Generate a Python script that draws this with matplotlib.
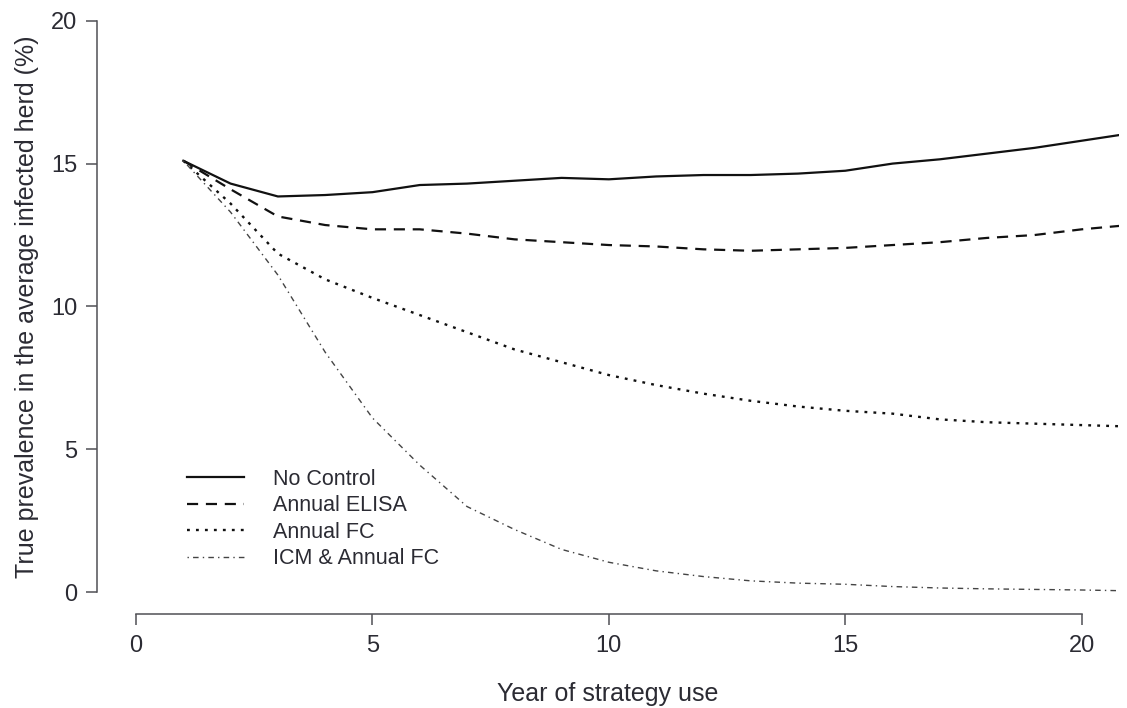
import matplotlib
matplotlib.use("Agg")
import matplotlib.pyplot as plt

plt.rcParams['font.family'] = ['Liberation Sans', 'DejaVu Sans']

years = list(range(1, 22))
no_control = [15.1, 14.3, 13.85, 13.9, 14.0, 14.25, 14.3, 14.4, 14.5, 14.45, 14.55,
              14.6, 14.6, 14.65, 14.75, 15.0, 15.15, 15.35, 15.55, 15.8, 16.05]
annual_elisa = [15.1, 14.1, 13.15, 12.85, 12.7, 12.7, 12.55, 12.35, 12.25, 12.15, 12.1,
                12.0, 11.95, 12.0, 12.05, 12.15, 12.25, 12.4, 12.5, 12.7, 12.85]
annual_fc = [15.1, 13.6, 11.85, 10.95, 10.3, 9.7, 9.1, 8.5, 8.05, 7.6, 7.25,
             6.95, 6.7, 6.5, 6.35, 6.25, 6.05, 5.95, 5.9, 5.85, 5.8]
icm_fc = [15.1, 13.3, 11.1, 8.4, 6.1, 4.45, 3.0, 2.2, 1.5, 1.05, 0.75,
          0.55, 0.4, 0.32, 0.28, 0.2, 0.15, 0.12, 0.1, 0.08, 0.05]
labels = ["No Control", "Annual ELISA", "Annual FC", "ICM & Annual FC"]
xticks = [0, 5, 10, 15, 20]
yticks = [0, 5, 10, 15, 20]

txt = '#2b2b33'
axcol = '#505055'

fig = plt.figure(figsize=(11.27, 7.08), dpi=100)
ax = fig.add_axes([96.7 / 1127, 94 / 708, (1119 - 96.7) / 1127, 614 / 708])

ax.plot(years, no_control, color='#111111', lw=1.6, ls='-', label=labels[0])
ax.plot(years, annual_elisa, color='#111111', lw=1.6, ls=(0, (5, 3.5)), label=labels[1])
ax.plot(years, annual_fc, color='#111111', lw=1.7, ls=(0, (1.2, 2.6)), label=labels[2])
ax.plot(years, icm_fc, color='#444444', lw=1.0, ls=(0, (1, 3, 4, 3)), label=labels[3])

ax.set_xlim(-0.832, (1119 - 136) / 47.285)
ax.set_ylim(-0.76, 592.3 / 28.58)

for s in ['top', 'right']:
    ax.spines[s].set_visible(False)
ax.spines['left'].set_bounds(0, 20)
ax.spines['bottom'].set_bounds(0, 20)
for s in ['left', 'bottom']:
    ax.spines[s].set_color(axcol)
    ax.spines[s].set_linewidth(1.1)

ax.set_xticks(xticks)
ax.set_yticks(yticks)
ax.tick_params(axis='both', length=8, width=1.1, color=axcol, labelcolor=txt, labelsize=17)
ax.tick_params(axis='x', pad=7)
ax.tick_params(axis='y', pad=6)

ax.set_xlabel("Year of strategy use", fontsize=18, color=txt, labelpad=18)
ax.set_ylabel("True prevalence in the average infected herd (%)", fontsize=18, color=txt, labelpad=9)

leg = ax.legend(loc='upper left', bbox_to_anchor=((186.7 - 96.7) / 1022.3, (614 - 469) / 614),
                frameon=False, fontsize=15.5, handlelength=2.65, handletextpad=1.35,
                labelspacing=0.25, borderpad=0, borderaxespad=0)
for t in leg.get_texts():
    t.set_color(txt)

fig.savefig("out.png", dpi=100, facecolor='white')
